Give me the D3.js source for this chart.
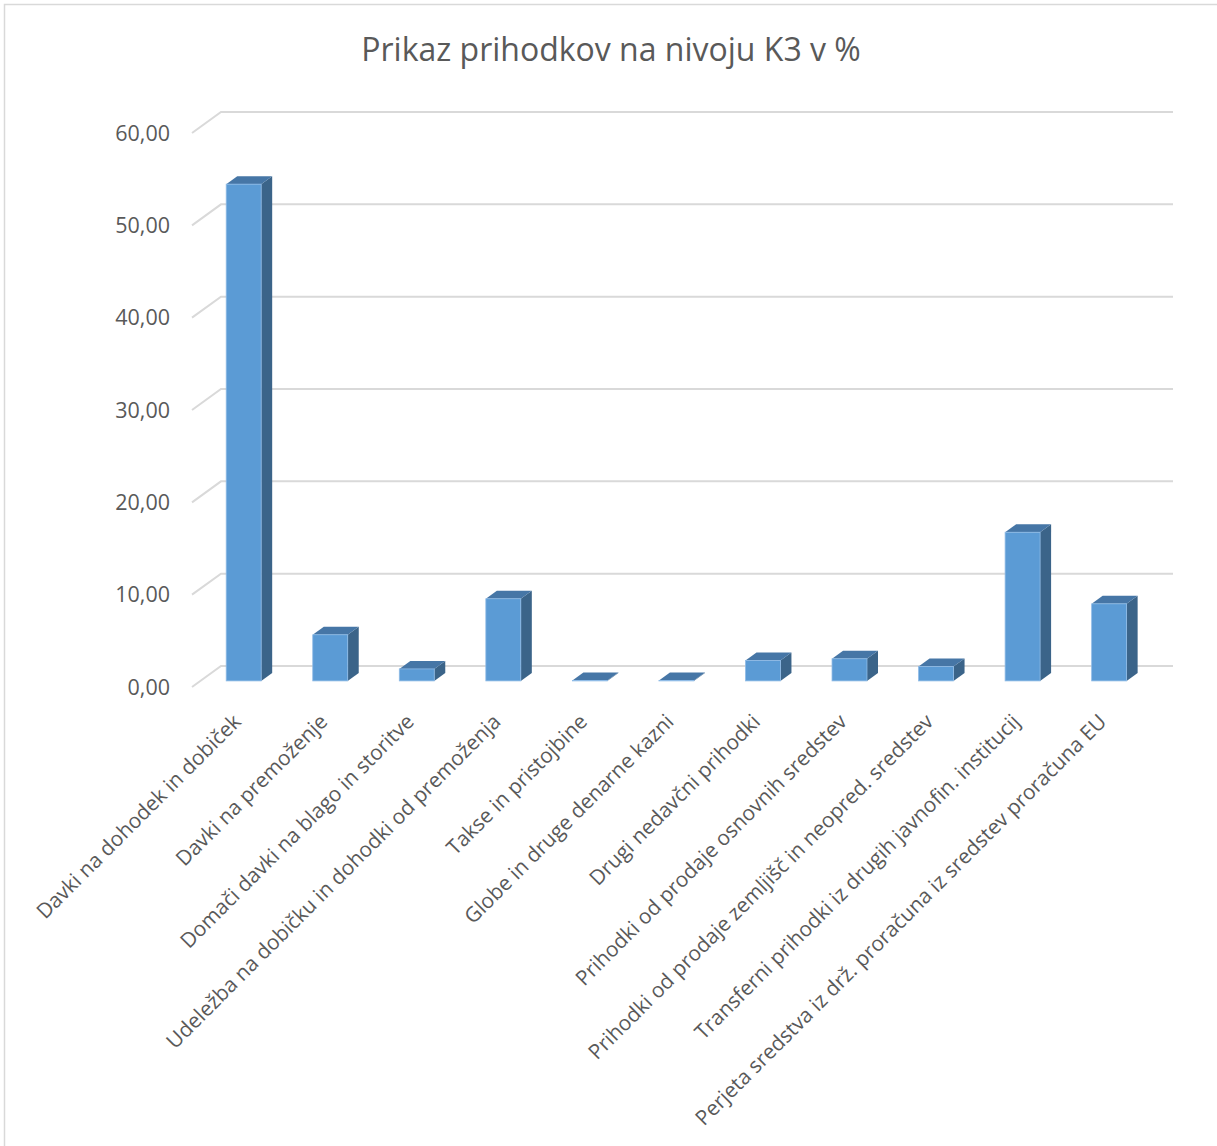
<!DOCTYPE html>
<html>
<head>
<meta charset="utf-8">
<script src="https://cdn.jsdelivr.net/npm/d3@7"></script>
<style>
  body { margin: 0; background: #fff; }
  svg { display: block; font-family: "Open Sans", sans-serif; }
</style>
</head>
<body>
<svg id="chart" width="1217" height="1146"></svg>
<script>
/* ===== DATA ===== */
const categories = [
  "Davki na dohodek in dobiček",
  "Davki na premoženje",
  "Domači davki na blago in storitve",
  "Udeležba na dobičku in dohodki od premoženja",
  "Takse in pristojbine",
  "Globe in druge denarne kazni",
  "Drugi nedavčni prihodki",
  "Prihodki od prodaje osnovnih sredstev",
  "Prihodki od prodaje zemljišč in neopred. sredstev",
  "Transferni prihodki iz drugih javnofin. institucij",
  "Perjeta sredstva iz drž. proračuna iz sredstev proračuna EU"
];
const values = [53.8, 5.0, 1.3, 8.9, 0.05, 0.04, 2.2, 2.4, 1.55, 16.1, 8.35];
const ticks = [0, 10, 20, 30, 40, 50, 60];

/* ===== SETUP ===== */
const svg = d3.select("#chart");
const fmt = (v) => d3.format(".2f")(v).replace(".", ",");

// chart frame
svg.append("rect")
  .attr("x", 4.5).attr("y", 4.5)
  .attr("width", 1230).attr("height", 1160)
  .attr("fill", "none").attr("stroke", "#d9d9d9").attr("stroke-width", 1.5);

svg.append("text")
  .attr("x", 611).attr("y", 61)
  .attr("text-anchor", "middle")
  .attr("font-size", 32)
  .attr("fill", "#595959")
  .text("Prikaz prihodkov na nivoju K3 v %");

// front plane scales, back wall is shifted by depth
const x = d3.scaleBand().domain(categories).range([192, 1144]);
const y = d3.scaleLinear().domain([0, 60]).range([687, 133]);
const DX = 29, DY = -21;
const off = (t) => [DX * t, DY * t];

/* ===== GRID ===== */
const grid = svg.append("g").attr("stroke", "#d9d9d9").attr("stroke-width", 2).attr("fill", "none");
ticks.forEach((v) => {
  grid.append("path")
    .attr("d", `M${x.range()[0]},${y(v)} L${x.range()[0] + DX},${y(v) + DY} L${x.range()[1] + DX},${y(v) + DY}`);
});

svg.append("g")
  .selectAll("text")
  .data(ticks)
  .join("text")
  .attr("x", 170)
  .attr("y", (d) => y(d))
  .attr("dy", "0.36em")
  .attr("text-anchor", "end")
  .attr("font-size", 21.5)
  .attr("fill", "#595959")
  .text(fmt);

/* ===== BARS ===== */
const bw = x.bandwidth() * 0.404;
const [fx, fy] = off(0.29);
const [bx, by] = off(0.67);
const bars = svg.append("g");

categories.forEach((c, i) => {
  const cx = x(c) + x.bandwidth() / 2;
  const l = cx - bw / 2 + fx, r = cx + bw / 2 + fx;
  const b = y(0) + fy, t = y(values[i]) + fy;
  const ddx = bx - fx, ddy = by - fy;
  const g = bars.append("g");
  g.append("path")
    .attr("d", `M${r},${b} L${r + ddx},${b + ddy} L${r + ddx},${t + ddy} L${r},${t} Z`)
    .attr("fill", "#3b6489");
  g.append("path")
    .attr("d", `M${l},${t} L${l + ddx},${t + ddy} L${r + ddx},${t + ddy} L${r},${t} Z`)
    .attr("fill", "#4676a6");
  g.append("rect")
    .attr("x", l).attr("y", t)
    .attr("width", bw).attr("height", b - t)
    .attr("fill", "#5b9bd5")
    .attr("stroke", "#8fbbe6").attr("stroke-width", 0.8);
});

/* ===== CATEGORY LABELS ===== */
svg.append("g")
  .selectAll("text")
  .data(categories)
  .join("text")
  .attr("transform", (d) => `translate(${x(d) + x.bandwidth() / 2 + 7},${723}) rotate(-45)`)
  .attr("text-anchor", "end")
  .attr("font-size", 20.8)
  .attr("fill", "#595959")
  .text((d) => d);
</script>
</body>
</html>
